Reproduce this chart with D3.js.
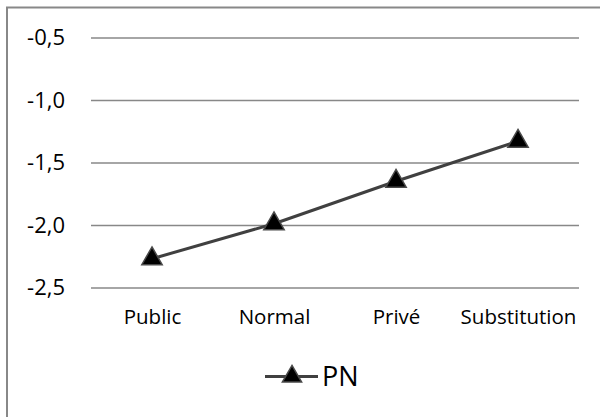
<!DOCTYPE html>
<html>
<head>
<meta charset="utf-8">
<script src="https://cdn.jsdelivr.net/npm/d3@7/dist/d3.min.js"></script>
<style>
  html, body { margin: 0; padding: 0; background: #fff; }
  svg { display: block; }
  text { font-family: "Open Sans", "Noto Sans", sans-serif; fill: #000; }
</style>
</head>
<body>
<svg id="chart" width="600" height="417"></svg>
<script>
// Series data
const categories = ["Public", "Normal", "Privé", "Substitution"];
const seriesName = "PN";
const pnValues = [-2.27, -1.99, -1.65, -1.33];
const yTicks = [-2.5, -2.0, -1.5, -1.0, -0.5];

const svg = d3.select("#chart");
const W = 600, H = 417;
const plot = { left: 91, right: 579, top: 37.5, bottom: 287.5 };

// Outer chart frame (left and top edges visible, the rest runs off the canvas)
svg.append("rect")
  .attr("x", 7).attr("y", 7.5)
  .attr("width", W + 10).attr("height", H + 10)
  .attr("fill", "#fff")
  .attr("stroke", "#888").attr("stroke-width", 2);

const x = d3.scalePoint().domain(categories).range([plot.left, plot.right]).padding(0.5);
const y = d3.scaleLinear().domain([-2.5, -0.5]).range([plot.bottom, plot.top]);

const fmt = v => d3.format(".1f")(v).replace(".", ",").replace("−", "-");

// Horizontal gridlines + value labels
const yAxis = d3.axisLeft(y)
  .tickValues(yTicks)
  .tickSize(-(plot.right - plot.left))
  .tickPadding(26)
  .tickFormat(fmt);

const gy = svg.append("g")
  .attr("transform", `translate(${plot.left},0)`)
  .call(yAxis);
gy.select(".domain").remove();
gy.selectAll(".tick line").attr("stroke", "#888").attr("stroke-width", 1.6);
gy.selectAll(".tick text")
  .attr("font-size", 22)
  .attr("font-family", "'Open Sans', sans-serif")
  .attr("fill", "#000");

// Category labels
const xAxis = d3.axisBottom(x).tickSize(0).tickPadding(22);
const gx = svg.append("g")
  .attr("transform", `translate(0,${plot.bottom})`)
  .call(xAxis);
gx.select(".domain").remove();
gx.selectAll(".tick text")
  .attr("font-size", 20.5)
  .attr("font-family", "'Open Sans', sans-serif")
  .attr("fill", "#000");

// Series line
const data = categories.map((c, i) => ({ c, v: pnValues[i] }));
svg.append("path")
  .datum(data)
  .attr("fill", "none")
  .attr("stroke", "#404040")
  .attr("stroke-width", 3)
  .attr("d", d3.line().x(d => x(d.c)).y(d => y(d.v)));

// Triangle markers
const tri = d3.symbol().type(d3.symbolTriangle).size(180);
svg.selectAll(".marker")
  .data(data)
  .join("path")
  .attr("class", "marker")
  .attr("d", tri)
  .attr("transform", d => `translate(${x(d.c)},${y(d.v)})`)
  .attr("fill", "#000")
  .attr("stroke", "#4a4a4a")
  .attr("stroke-width", 1.5);

// Legend
const lg = svg.append("g").attr("transform", "translate(265,376.5)");
lg.append("line")
  .attr("x1", 0).attr("x2", 53).attr("y1", 0).attr("y2", 0)
  .attr("stroke", "#404040").attr("stroke-width", 3);
lg.append("path")
  .attr("d", d3.symbol().type(d3.symbolTriangle).size(160))
  .attr("transform", "translate(27,0)")
  .attr("fill", "#000")
  .attr("stroke", "#4a4a4a")
  .attr("stroke-width", 1.5);
lg.append("text")
  .attr("x", 57).attr("y", 0)
  .attr("dy", "0.36em")
  .attr("font-size", 27)
  .text(seriesName);
</script>
</body>
</html>
